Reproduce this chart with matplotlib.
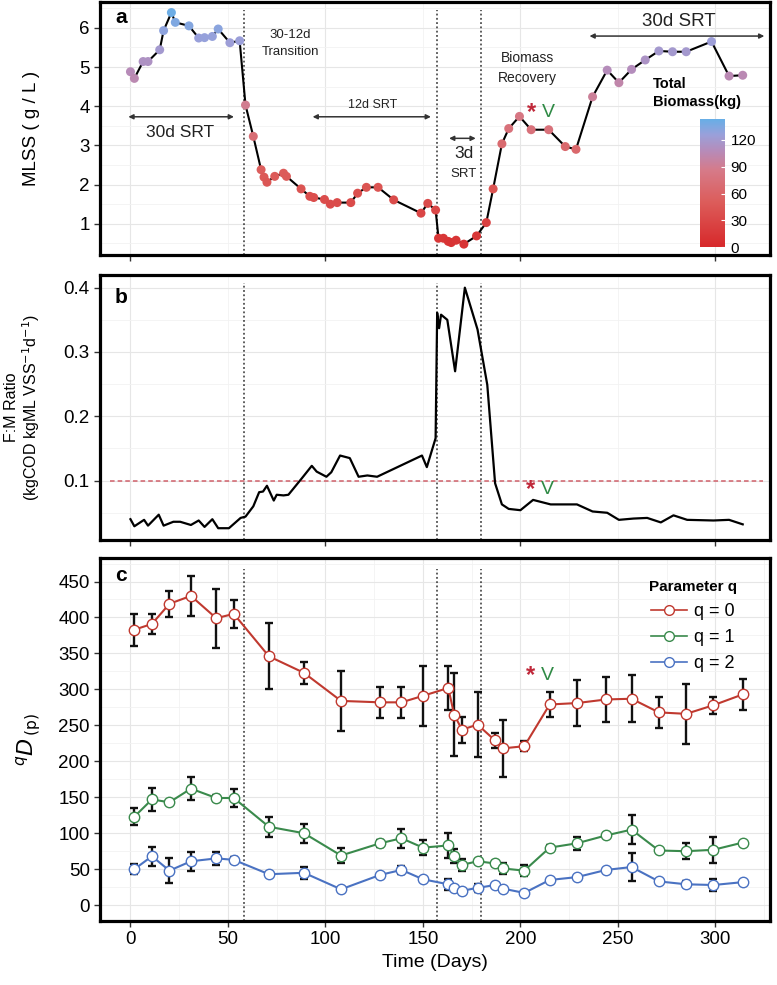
import numpy as np
import matplotlib
matplotlib.use("Agg")
import matplotlib.pyplot as plt
from matplotlib.colors import LinearSegmentedColormap, Normalize
from matplotlib.cm import ScalarMappable
from matplotlib.ticker import MultipleLocator
from matplotlib.lines import Line2D

plt.rcParams['font.family'] = ['Liberation Sans', 'DejaVu Sans']

#~~~Data~~~

# panel a: MLSS and total biomass
mlss_days = [0, 2, 6.5, 9, 15, 17, 21, 23, 30, 35, 38, 42, 45, 51, 56, 59, 63, 67, 68.5, 70,
             74, 78.5, 80, 87.5, 92, 94, 99.5, 102.5, 106, 113, 116.5, 121, 127, 135, 149, 152.5,
             156.5, 158, 160.5, 163, 164.5, 167, 171, 177.5, 182.5, 186, 190.5, 194, 199.5, 205.5,
             214.5, 223, 228.5, 237, 244.5, 250.5, 257, 264, 271, 278, 285, 298, 307, 314]
mlss = [4.88, 4.71, 5.14, 5.14, 5.44, 5.93, 6.39, 6.14, 6.05, 5.74, 5.75, 5.78, 5.97, 5.62, 5.67,
        4.03, 3.23, 2.38, 2.19, 2.06, 2.21, 2.29, 2.21, 1.89, 1.70, 1.67, 1.62, 1.50, 1.54, 1.54,
        1.78, 1.93, 1.93, 1.61, 1.27, 1.52, 1.35, 0.63, 0.63, 0.55, 0.52, 0.58, 0.48, 0.69, 1.03,
        1.89, 3.04, 3.43, 3.74, 3.40, 3.40, 2.97, 2.90, 4.24, 4.92, 4.60, 4.94, 5.18, 5.41, 5.39,
        5.39, 5.65, 4.77, 4.79]
biomass = [107, 104, 113, 113, 120, 130, 141, 135, 133, 126, 127, 127, 131, 124, 125,
           89, 71, 52, 48, 45, 49, 50, 49, 42, 37, 37, 36, 33, 34, 34,
           39, 42, 42, 35, 28, 33, 30, 14, 14, 12, 11, 13, 11, 15, 23,
           42, 67, 75, 82, 75, 75, 65, 64, 93, 108, 101, 109, 114, 119, 119,
           119, 124, 105, 105]

# panel b: F:M ratio
fm_days = [0, 2, 7, 9, 14.5, 17, 22, 25.5, 31, 35, 38, 42, 45, 50.5, 56.5, 59, 63, 66, 68, 70,
           73.5, 75, 78.5, 81, 88, 93, 95.5, 100.5, 103, 107.5, 112.5, 117, 121.5, 126.5, 149.5,
           152, 156.5, 157.3, 158.3, 159.3, 162.5, 166.5, 171.5, 178, 183, 187, 190.5, 194, 200,
           206.5, 215.5, 229, 237, 244.5, 250.5, 258, 265, 272, 278.5, 285.5, 299, 307, 314]
fm_ratio = [0.040, 0.029, 0.039, 0.030, 0.047, 0.030, 0.036, 0.036, 0.031, 0.038, 0.028, 0.040,
            0.026, 0.026, 0.042, 0.044, 0.060, 0.082, 0.083, 0.092, 0.069, 0.078, 0.077, 0.078,
            0.104, 0.123, 0.114, 0.106, 0.113, 0.139, 0.135, 0.106, 0.108, 0.106, 0.139, 0.121,
            0.166, 0.361, 0.337, 0.358, 0.350, 0.270, 0.400, 0.335, 0.249, 0.096, 0.063, 0.056,
            0.054, 0.070, 0.063, 0.063, 0.052, 0.050, 0.039, 0.041, 0.042, 0.035, 0.046, 0.039,
            0.038, 0.039, 0.032]
fm_threshold = 0.1

# panel c: Hill diversity
div_days = [2, 11, 20, 31, 44, 53, 71, 89, 108, 128, 139, 150, 163, 166, 170, 178, 187, 191,
            202, 215, 229, 244, 257, 271, 285, 299, 314]
q0 = [383, 391, 419, 430, 399, 405, 346, 323, 284, 282, 282, 291, 302, 265, 244, 251, 229, 218,
      221, 279, 281, 286, 287, 268, 266, 278, 293]
q0_sd = [22, 14, 18, 28, 41, 19, 46, 15, 42, 22, 22, 42, 30, 58, 18, 45, 10, 40, 7, 17, 32, 31,
         33, 21, 42, 12, 22]
q1 = [123, 147, 143, 162, 149, 149, 109, 100, 69, 86, 93, 80, 83, 68, 56, 61, 58, 51, 48, 80, 86,
      97, 105, 76, 75, 77, 87]
q1_sd = [12, 16, 2, 16, 4, 12, 14, 13, 11, 5, 13, 10, 17, 10, 8, 2, 3, 7, 8, 3, 9, 0, 20, 0, 11,
         18, 0]
q2 = [50, 68, 48, 61, 65, 63, 43, 45, 22, 42, 49, 36, 29, 24, 20, 24, 28, 23, 17, 35, 39, 49, 53,
      33, 29, 28, 32]
q2_sd = [7, 13, 17, 13, 9, 4, 0, 8, 0, 0, 6, 0, 8, 0, 0, 6, 0, 0, 0, 0, 0, 0, 20, 0, 4, 9, 0]

phase_lines = [58, 157, 180]
q_labels = ["q = 0", "q = 1", "q = 2"]
q_colors = ["#c0392f", "#3a8a4c", "#4a72c2"]


#~~~Helpers~~~

def style_axes(ax):
    """thick frame + light grid like the original"""
    for sp in ax.spines.values():
        sp.set_linewidth(2.3)
        sp.set_color("black")
    ax.grid(True, which="major", color="#e6e6e6", lw=0.8)
    ax.grid(True, which="minor", color="#f2f2f2", lw=0.6)
    ax.set_axisbelow(True)
    ax.tick_params(which="major", length=4, width=1, color="#333333", labelsize=13.5)
    ax.tick_params(which="minor", length=0)
    ax.set_xlim(-15.5, 328)


def phase_vlines(ax):
    for d in phase_lines:
        ax.axvline(d, ymin=0.0, ymax=0.97, color="#333333", lw=1.1, ls=(0, (1.2, 1.6)), zorder=1)


def star_v(ax, x, y):
    ax.text(x, y, "*", color="#c0283a", fontsize=17, ha="center", va="center", fontweight="bold")
    ax.text(x + 9, y, "V", color="#2f8a45", fontsize=14, ha="center", va="center")


fig = plt.figure(figsize=(7.77, 9.85), dpi=100)
ax_a = fig.add_axes([0.129, 0.741, 0.862, 0.257])
ax_b = fig.add_axes([0.129, 0.452, 0.862, 0.269])
ax_c = fig.add_axes([0.129, 0.065, 0.862, 0.368])

# ---- panel a
style_axes(ax_a)
cmap = LinearSegmentedColormap.from_list(
    "biomass", [(0.0, "#d7282a"), (0.35, "#dc5c5a"), (0.6, "#d67a88"),
                (0.75, "#b78bb8"), (0.88, "#9aa0da"), (1.0, "#68aee6")])
norm = Normalize(0, 143)
ax_a.plot(mlss_days, mlss, color="black", lw=1.5, zorder=2)
ax_a.scatter(mlss_days, mlss, c=biomass, cmap=cmap, norm=norm, s=42, zorder=3, edgecolors="none")
phase_vlines(ax_a)
ax_a.set_ylim(0.2, 6.66)
ax_a.yaxis.set_major_locator(MultipleLocator(1))
ax_a.yaxis.set_minor_locator(MultipleLocator(0.5))
ax_a.xaxis.set_major_locator(MultipleLocator(100))
ax_a.xaxis.set_minor_locator(MultipleLocator(50))
ax_a.set_xticklabels([])
ax_a.set_ylabel("MLSS ( g / L )", fontsize=13.5)
ax_a.yaxis.set_label_coords(-0.09, 0.5)
ax_a.text(0.022, 0.937, "a", transform=ax_a.transAxes, fontsize=15, fontweight="bold", va="center")

arrow = dict(arrowstyle="<|-|>", color="#333333", lw=1.1, mutation_scale=7)
ax_a.annotate("", xy=(-2.5, 3.73), xytext=(54.5, 3.73), arrowprops=arrow)
ax_a.text(25.6, 3.33, "30d SRT", fontsize=12.5, ha="center", va="center", color="#222222")
ax_a.text(82, 5.6, "30-12d\nTransition", fontsize=9.5, ha="center", va="center", linespacing=1.5,
          color="#222222")
ax_a.annotate("", xy=(92, 3.73), xytext=(155.5, 3.73), arrowprops=arrow)
ax_a.text(124, 4.03, "12d SRT", fontsize=9, ha="center", va="center", color="#222222")
ax_a.annotate("", xy=(162, 3.18), xytext=(178.5, 3.18), arrowprops=arrow)
ax_a.text(171, 2.79, "3d", fontsize=12.5, ha="center", va="center", color="#222222")
ax_a.text(171, 2.28, "SRT", fontsize=9.5, ha="center", va="center", color="#222222")
ax_a.text(203.5, 4.97, "Biomass\nRecovery", fontsize=10, ha="center", va="center", linespacing=1.6,
          color="#222222")
star_v(ax_a, 205.5, 3.85)
ax_a.annotate("", xy=(234, 5.79), xytext=(326.5, 5.79), arrowprops=arrow)
ax_a.text(281, 6.15, "30d SRT", fontsize=13.5, ha="center", va="center", color="#222222")
ax_a.text(268, 4.34, "Total\nBiomass(kg)", fontsize=10.5, fontweight="bold", ha="left", va="center",
          linespacing=1.4)

cax = fig.add_axes([0.901, 0.749, 0.032, 0.13])
cb = fig.colorbar(ScalarMappable(norm=norm, cmap=cmap), cax=cax, ticks=[0, 30, 60, 90, 120])
cb.outline.set_visible(False)
cax.tick_params(length=3, width=0.8, color="white", direction="in", labelsize=11, pad=4)

# ---- panel b
style_axes(ax_b)
ax_b.plot(fm_days, fm_ratio, color="black", lw=1.6, zorder=3)
ax_b.axhline(fm_threshold, xmin=0.015, xmax=0.99, color="#d0606a", lw=1.1, ls=(0, (3, 2)), zorder=2)
phase_vlines(ax_b)
ax_b.set_ylim(0.008, 0.42)
ax_b.yaxis.set_major_locator(MultipleLocator(0.1))
ax_b.yaxis.set_minor_locator(MultipleLocator(0.05))
ax_b.xaxis.set_major_locator(MultipleLocator(100))
ax_b.xaxis.set_minor_locator(MultipleLocator(50))
ax_b.set_xticklabels([])
ax_b.set_ylabel("F:M Ratio\n(kgCOD kgML VSS$^{-1}$d$^{-1}$)", fontsize=11.5, linespacing=1.05)
ax_b.yaxis.set_label_coords(-0.087, 0.5)
ax_b.text(0.022, 0.913, "b", transform=ax_b.transAxes, fontsize=15, fontweight="bold", va="center")
star_v(ax_b, 205, 0.086)

# ---- panel c
style_axes(ax_c)
phase_vlines(ax_c)
handles = []
for vals, sd, col, lab in zip([q0, q1, q2], [q0_sd, q1_sd, q2_sd], q_colors, q_labels):
    ax_c.errorbar(div_days, vals, yerr=sd, fmt="none", ecolor="#111111", elinewidth=1.7,
                  capsize=2.6, capthick=1.7, zorder=3)
    ax_c.plot(div_days, vals, color=col, lw=1.5, marker="o", ms=7.5, mfc="white", mec=col,
              mew=1.0, zorder=4)
    handles.append(Line2D([], [], color=col, lw=1.2, marker="o", ms=7, mfc="white", mec=col,
                          mew=1.0))
ax_c.set_ylim(-22, 482)
ax_c.yaxis.set_major_locator(MultipleLocator(50))
ax_c.yaxis.set_minor_locator(MultipleLocator(25))
ax_c.xaxis.set_major_locator(MultipleLocator(50))
ax_c.xaxis.set_minor_locator(MultipleLocator(25))
ax_c.set_ylabel(r"$^{q}\mathit{D}_{\,(\mathrm{p})}$", fontsize=16)
ax_c.yaxis.set_label_coords(-0.085, 0.5)
ax_c.set_xlabel("Time (Days)", fontsize=14)
ax_c.text(0.022, 0.953, "c", transform=ax_c.transAxes, fontsize=15, fontweight="bold", va="center")
star_v(ax_c, 205, 319)
leg = ax_c.legend(handles, q_labels, title="Parameter q", loc="upper right",
                  bbox_to_anchor=(0.975, 0.985), frameon=False, fontsize=13, handlelength=2.0,
                  handletextpad=0.4, labelspacing=0.5)
leg.get_title().set_fontweight("bold")
leg.get_title().set_fontsize(11)

fig.savefig("out.png", dpi=100)
